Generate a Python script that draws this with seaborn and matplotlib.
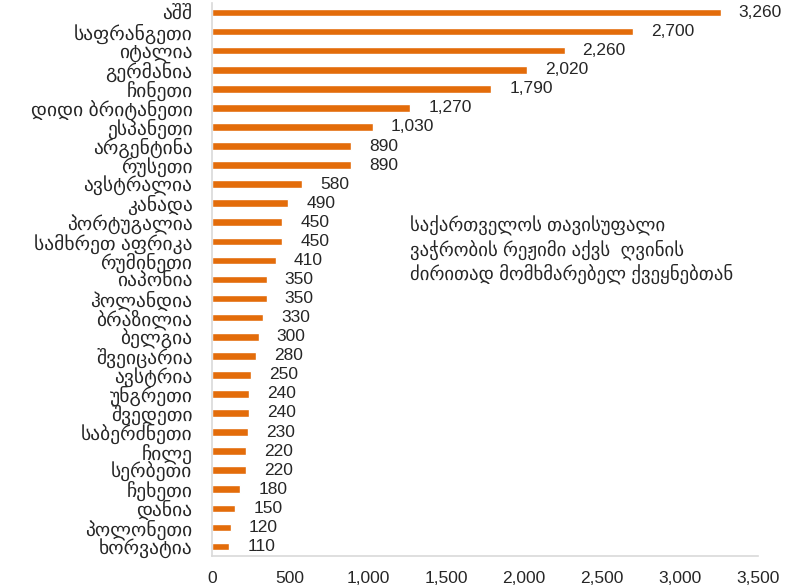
import matplotlib
matplotlib.use('Agg')
import matplotlib.pyplot as plt
import pandas as pd
import seaborn as sns

# ქვეყნები და მნიშვნელობები (სურათიდან წაკითხული)
countries = ['აშშ', 'საფრანგეთი', 'იტალია', 'გერმანია', 'ჩინეთი', 'დიდი ბრიტანეთი',
             'ესპანეთი', 'არგენტინა', 'რუსეთი', 'ავსტრალია', 'კანადა', 'პორტუგალია',
             'სამხრეთ აფრიკა', 'რუმინეთი', 'იაპონია', 'ჰოლანდია', 'ბრაზილია', 'ბელგია',
             'შვეიცარია', 'ავსტრია', 'უნგრეთი', 'შვედეთი', 'საბერძნეთი', 'ჩილე',
             'სერბეთი', 'ჩეხეთი', 'დანია', 'პოლონეთი', 'ხორვატია']
values = [3260, 2700, 2260, 2020, 1790, 1270, 1030, 890, 890, 580, 490, 450,
          450, 410, 350, 350, 330, 300, 280, 250, 240, 240, 230, 220,
          220, 180, 150, 120, 110]
x_ticks = [0, 500, 1000, 1500, 2000, 2500, 3000, 3500]
note = ('საქართველოს თავისუფალი\n'
        'ვაჭრობის რეჟიმი აქვს  ღვინის\n'
        'ძირითად მომხმარებელ ქვეყნებთან')

df = pd.DataFrame({'country': countries, 'value': values})

sns.set_style('white')
plt.rcParams['font.family'] = ['Liberation Sans', 'DejaVu Sans']

fig = plt.figure(figsize=(7.89, 5.87), dpi=100)
ax = fig.add_axes([0.2687, 0.0528, 0.692, 0.9421])

sns.barplot(data=df, x='value', y='country', orient='h', color='#E36C0A',
            saturation=1, width=0.4, ax=ax)

ax.set_xlim(0, 3500)
ax.set_ylim(len(countries) - 0.5, -0.5)
ax.set_xticks(x_ticks)
ax.set_xticklabels([f'{t:,}' for t in x_ticks], fontsize=12.5)
ax.set_xlabel('')
ax.set_ylabel('')
ax.tick_params(axis='x', length=0, pad=11)
ax.tick_params(axis='y', length=0, pad=14, labelsize=14)

for side in ['top', 'right']:
    ax.spines[side].set_visible(False)
for side in ['left', 'bottom']:
    ax.spines[side].set_color('#D9D9D9')
    ax.spines[side].set_linewidth(1.2)

ax.bar_label(ax.containers[0], labels=[f'{v:,}' for v in values],
             padding=13, fontsize=12.5)

fig.text(410 / 789, 1 - 216 / 587, note, fontsize=13.5, va='top', ha='left',
         linespacing=1.2)

fig.savefig('out.png', dpi=100)
